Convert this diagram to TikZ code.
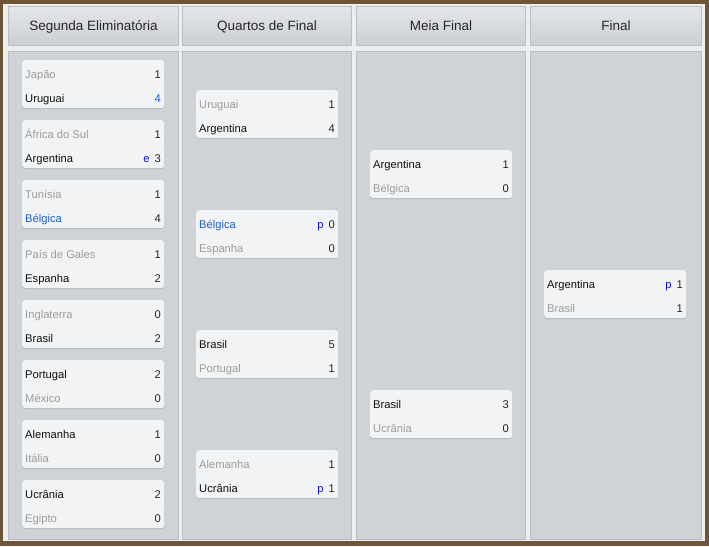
\documentclass[tikz,border=0pt]{standalone}
\usepackage{fontspec}
\setmainfont{Liberation Sans}
\definecolor{brown}{HTML}{6E5538}
\definecolor{bg}{HTML}{ECEEEF}
\definecolor{colfill}{HTML}{D0D3D6}
\definecolor{colline}{HTML}{B9BEC3}
\definecolor{headtop}{HTML}{E4E6E8}
\definecolor{headbot}{HTML}{CCCFD2}
\definecolor{boxfill}{HTML}{F2F3F5}
\definecolor{shadowc}{HTML}{9EA3A8}
\definecolor{win}{HTML}{111111}
\definecolor{lose}{HTML}{9C9C9C}
\definecolor{hl}{HTML}{1F5FC8}
\definecolor{mk}{HTML}{1010E0}
\definecolor{score}{HTML}{2A2618}
\tikzset{
  colbody/.style={draw=colline, line width=1pt, fill=colfill},
  colhead/.style={draw=colline, line width=1pt, top color=headtop, bottom color=headbot},
  headtext/.style={font=\fontsize{13.5}{16}\selectfont, text=black!85, anchor=base, inner sep=0pt},
  matchbox/.style={fill=boxfill, rounded corners=3pt},
  matchshadow/.style={fill=shadowc, rounded corners=3pt, opacity=0.6},
  teamtxt/.style={anchor=base west, inner sep=0pt, font=\fontsize{11.2}{13}\selectfont},
  scoretxt/.style={anchor=base east, inner sep=0pt, font=\fontsize{11.2}{13}\selectfont, text=score},
  winner/.style={text=win},
  loser/.style={text=lose},
  highl/.style={text=hl}
}
\newcommand\mk[1]{{\color{mk}#1}\hspace{5pt}}
% name, x, y, team1, style1, score1, team2, style2, score2
\newcommand\match[9]{%
  \fill[matchshadow] (#2,#3+1.2) rectangle ++(142,48);
  \node[matchbox, draw=none, minimum width=142pt, minimum height=48pt, inner sep=0pt, anchor=north west] (#1) at (#2,#3) {};
  \node[teamtxt, #5] (#1a) at (#2+3,#3+18) {#4};
  \node[scoretxt] (#1as) at (#2+139,#3+18) {#6};
  \node[teamtxt, #8] (#1b) at (#2+3,#3+42) {#7};
  \node[scoretxt] (#1bs) at (#2+139,#3+42) {#9};
}
\begin{document}
\begin{tikzpicture}[x=1pt,y=-1pt]
\useasboundingbox (0,0) rectangle (709,546);
\fill[brown] (0,0) rectangle (709,546);
\fill[bg] (3,4) rectangle (705,541);
% columns
\foreach \x/\w/\t [count=\i] in {8/170/Segunda Eliminatória, 182/169/Quartos de Final, 356/169/Meia Final, 530/171/Final}{
  \node[colhead, minimum width=\w pt, minimum height=39pt, inner sep=0pt, anchor=north west] (h\i) at (\x,6) {};
  \node[headtext] (ht\i) at ([yshift=-4.8pt]h\i.center) {\t};
  \node[colbody, minimum width=\w pt, minimum height=488pt, inner sep=0pt, anchor=north west] (c\i) at (\x,51) {};
}
% round 1
\match{m1}{22}{60}{Japão}{loser}{1}{Uruguai}{winner}{{\color{hl}4}}
\match{m2}{22}{120}{África do Sul}{loser}{1}{Argentina}{winner}{\mk{e}3}
\match{m3}{22}{180}{Tunísia}{loser}{1}{Bélgica}{highl}{4}
\match{m4}{22}{240}{País de Gales}{loser}{1}{Espanha}{winner}{2}
\match{m5}{22}{300}{Inglaterra}{loser}{0}{Brasil}{winner}{2}
\match{m6}{22}{360}{Portugal}{winner}{2}{México}{loser}{0}
\match{m7}{22}{420}{Alemanha}{winner}{1}{Itália}{loser}{0}
\match{m8}{22}{480}{Ucrânia}{winner}{2}{Egipto}{loser}{0}
% quarter finals
\match{q1}{196}{90}{Uruguai}{loser}{1}{Argentina}{winner}{4}
\match{q2}{196}{210}{Bélgica}{highl}{\mk{p}0}{Espanha}{loser}{0}
\match{q3}{196}{330}{Brasil}{winner}{5}{Portugal}{loser}{1}
\match{q4}{196}{450}{Alemanha}{loser}{1}{Ucrânia}{winner}{\mk{p}1}
% semi finals
\match{s1}{370}{150}{Argentina}{winner}{1}{Bélgica}{loser}{0}
\match{s2}{370}{390}{Brasil}{winner}{3}{Ucrânia}{loser}{0}
% final
\match{f1}{544}{270}{Argentina}{winner}{\mk{p}1}{Brasil}{loser}{1}
\end{tikzpicture}
\end{document}
